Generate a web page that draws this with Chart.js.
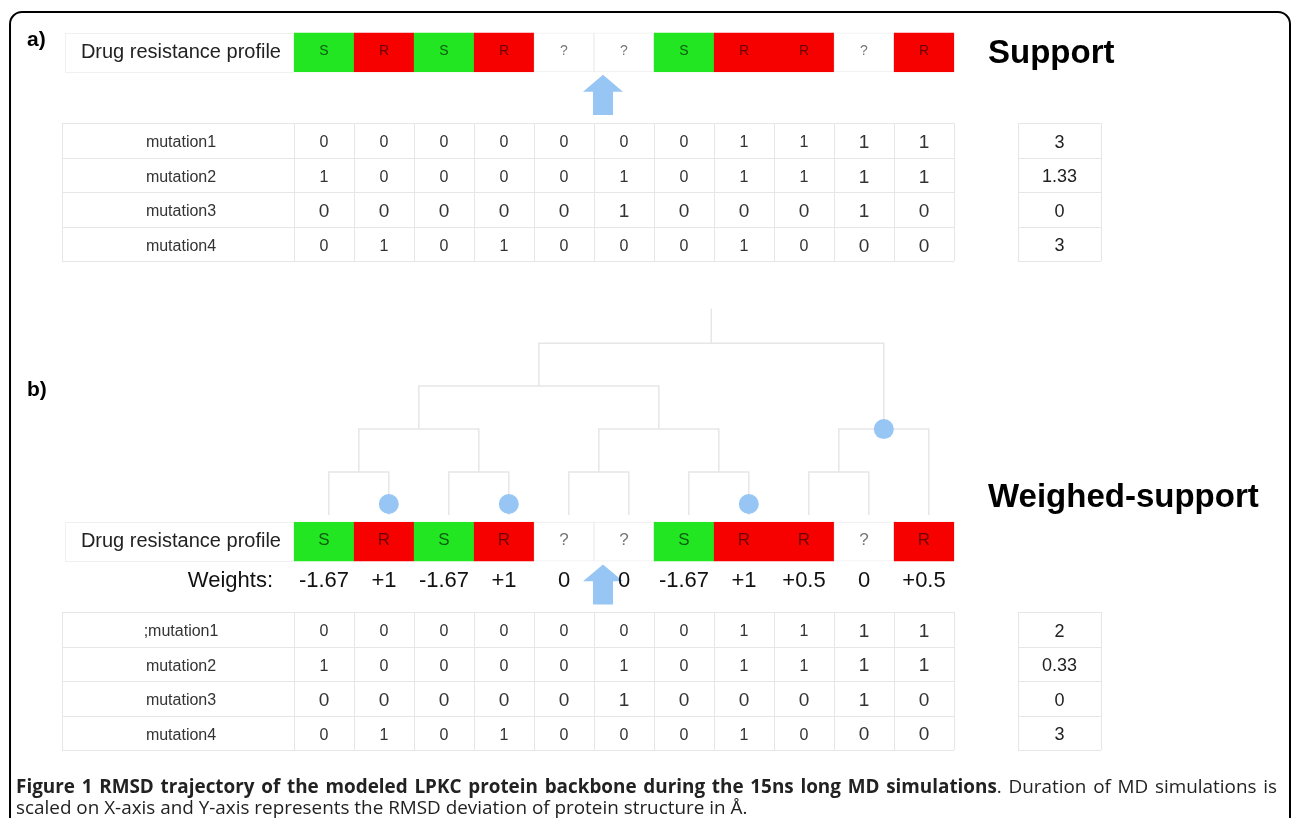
<!DOCTYPE html>
<html>
<head>
<meta charset="utf-8">
<script src="https://cdn.jsdelivr.net/npm/chart.js@4.4.1/dist/chart.umd.min.js"></script>
<style>
  html, body { margin: 0; padding: 0; background: #fff; }
  #wrap { width: 1293px; height: 818px; position: relative; }
</style>
</head>
<body>
<div id="wrap"><canvas id="figure"></canvas></div>
<script>
// ---- data ----
var profile = ['S', 'R', 'S', 'R', '?', '?', 'S', 'R', 'R', '?', 'R'];
var weights = ['-1.67', '+1', '-1.67', '+1', '0', '0', '-1.67', '+1', '+0.5', '0', '+0.5'];
var mutationsA = ['mutation1', 'mutation2', 'mutation3', 'mutation4'];
var mutationsB = [';mutation1', 'mutation2', 'mutation3', 'mutation4'];
var mutation1 = [0, 0, 0, 0, 0, 0, 0, 1, 1, 1, 1];
var mutation2 = [1, 0, 0, 0, 0, 1, 0, 1, 1, 1, 1];
var mutation3 = [0, 0, 0, 0, 0, 1, 0, 0, 0, 1, 0];
var mutation4 = [0, 1, 0, 1, 0, 0, 0, 1, 0, 0, 0];
var supportA = ['3', '1.33', '0', '3'];
var supportB = ['2', '0.33', '0', '3'];
var tree = [[[[1, 2], [3, 4]], [[5, 6], [7, 8]]], [[9, 10], 11]];
var markedClades = [[2], [4], [8], [9, 10, 11]];
var captionBold = 'Figure 1 RMSD trajectory of the modeled LPKC protein backbone during the 15ns long MD simulations';
var captionRest = '. Duration of MD simulations is';
var captionLine2 = 'scaled on X-axis and Y-axis represents the RMSD deviation of protein structure in Å.';

var matrix = [mutation1, mutation2, mutation3, mutation4];

// ---- layout: x in column units (column i centred on i), y in table-row units ----
var ROW = 34.5;
var X_MIN = -4.4, X_MAX = 17.15, Y_MAX = 818 / ROW;
var L = {
    frame: { left: -4.233, right: 17.1, top: 0.348 },
    tableLeft: -3.367, labelX: -1.383, profileLabelRight: 0.283, weightsRight: 0.15,
    supportLeft: 12.567, supportRight: 13.95, supportX: 13.26,
    headingX: 12.067, tagX: -3.95,
    half: 0.565, arrowCol: 5.65, textDrop: 0.07,
    a: { tag: 1.16, profile: 1.52, arrowTop: 2.17, arrowBottom: 3.33, table: 3.57, heading: 1.55 },
    b: { tag: 11.3, profile: 15.70, weights: 16.84, arrowTop: 16.36, arrowBottom: 17.52, table: 17.74, heading: 14.42 },
    tree: { leafY: 14.93, step: 1.246, stem: 1.0, shift: 0.08, markLift: 0.32 },
    caption: { left: -4.133, right: 16.883, line2Right: 8.07, line1: 22.84, line2: 23.45 }
};

var FONT = '"Liberation Sans", Arial, sans-serif';
var BLUE = '#98c6f4';
var GRID = '#e6e6e6';
var fills = { S: '#22e622', R: '#f70000', '?': '#ffffff' };
var borders = { S: '#22e622', R: '#f70000', '?': '#eeeeee' };
var letterColors = { S: '#0d5c0d', R: '#6a0000', '?': '#777777' };

// ---- tree layout from the nested structure ----
function layoutNode(node) {
    if (typeof node === 'number') {
        return { x: node + L.tree.shift, y: L.tree.leafY, h: 0, leaves: [node], kids: [] };
    }
    var kids = node.map(layoutNode);
    var h = Math.max.apply(null, kids.map(function (k) { return k.h; })) + 1;
    var x = kids.reduce(function (s, k) { return s + k.x; }, 0) / kids.length;
    var leaves = [].concat.apply([], kids.map(function (k) { return k.leaves; }));
    return { x: x, y: L.tree.leafY - h * L.tree.step, h: h, leaves: leaves, kids: kids };
}
var root = layoutNode(tree);

var treeDatasets = [];
var allNodes = [];
(function walk(n) {
    allNodes.push(n);
    if (!n.kids.length) return;
    var a = n.kids[0], b = n.kids[n.kids.length - 1];
    treeDatasets.push({
        type: 'scatter', showLine: true, pointRadius: 0, borderColor: GRID, borderWidth: 1.5, order: 2,
        data: [{ x: a.x, y: a.y }, { x: a.x, y: n.y }, { x: b.x, y: n.y }, { x: b.x, y: b.y }]
    });
    n.kids.forEach(walk);
})(root);
treeDatasets.push({
    type: 'scatter', showLine: true, pointRadius: 0, borderColor: GRID, borderWidth: 1.5, order: 2,
    data: [{ x: root.x, y: root.y }, { x: root.x, y: root.y - L.tree.stem }]
});

var markPoints = markedClades.map(function (clade) {
    var node = allNodes.filter(function (n) { return n.leaves.join() === clade.join(); })[0];
    if (node.h === 0) return { x: node.x, y: node.y - L.tree.markLift };
    return { x: node.x, y: node.y };
});

function profileBars(centre) {
    return {
        type: 'bar', grouped: false, barPercentage: 1, categoryPercentage: 1, order: 3,
        borderSkipped: false, borderWidth: 1,
        backgroundColor: profile.map(function (p) { return fills[p]; }),
        borderColor: profile.map(function (p) { return borders[p]; }),
        data: profile.map(function (p, i) { return { x: i + 1, y: [centre - L.half, centre + L.half] }; })
    };
}

// ---- drawing of grid, text and arrows through the scales ----
var figurePlugin = {
    id: 'figure',
    beforeDatasetsDraw: function (chart) {
        var ctx = chart.ctx, X = chart.scales.x, Y = chart.scales.y;
        function px(v) { return X.getPixelForValue(v); }
        function py(v) { return Y.getPixelForValue(v); }
        function hline(x0, x1, y) { var yy = Math.round(py(y)) + 0.5; ctx.beginPath(); ctx.moveTo(px(x0), yy); ctx.lineTo(px(x1), yy); ctx.stroke(); }
        function vline(x, y0, y1) { var xx = Math.round(px(x)) + 0.5; ctx.beginPath(); ctx.moveTo(xx, py(y0)); ctx.lineTo(xx, py(y1)); ctx.stroke(); }
        ctx.save();

        // outer frame
        var fl = px(L.frame.left), fr = px(L.frame.right), ft = py(L.frame.top), fb = py(Y_MAX) + 40, r = 12;
        ctx.strokeStyle = '#000'; ctx.lineWidth = 2;
        ctx.beginPath();
        ctx.moveTo(fl, fb); ctx.lineTo(fl, ft + r); ctx.arcTo(fl, ft, fl + r, ft, r);
        ctx.lineTo(fr - r, ft); ctx.arcTo(fr, ft, fr, ft + r, r); ctx.lineTo(fr, fb);
        ctx.stroke();

        ctx.strokeStyle = GRID; ctx.lineWidth = 1;
        [L.a, L.b].forEach(function (panel) {
            var top = panel.table, bottom = top + matrix.length;
            for (var rI = 0; rI <= matrix.length; rI++) {
                hline(L.tableLeft, profile.length + 0.5, top + rI);
                hline(L.supportLeft, L.supportRight, top + rI);
            }
            vline(L.tableLeft, top, bottom);
            for (var c = 0; c <= profile.length; c++) vline(c + 0.5, top, bottom);
            vline(L.supportLeft, top, bottom);
            vline(L.supportRight, top, bottom);
            // label box of the profile row
            ctx.strokeStyle = '#f0f0f0';
            hline(L.tableLeft + 0.05, 0.5, panel.profile - L.half);
            hline(L.tableLeft + 0.05, 0.5, panel.profile + L.half);
            vline(L.tableLeft + 0.05, panel.profile - L.half, panel.profile + L.half);
            ctx.strokeStyle = GRID;
        });
        ctx.restore();
    },
    afterDatasetsDraw: function (chart) {
        var ctx = chart.ctx, X = chart.scales.x, Y = chart.scales.y;
        function px(v) { return X.getPixelForValue(v); }
        function py(v) { return Y.getPixelForValue(v); }
        function text(str, x, y, size, color, align, weight, family) {
            ctx.font = (weight || 'normal') + ' ' + size + 'px ' + (family || FONT);
            ctx.fillStyle = color;
            ctx.textAlign = align || 'center';
            ctx.textBaseline = 'middle';
            ctx.fillText(str, px(x), py(y));
        }
        function arrow(col, top, bottom) {
            var cx = px(col), t = py(top), b = py(bottom);
            var hw = px(col + 0.333) - cx, sw = px(col + 0.167) - cx, hh = py(top + 0.49) - t;
            ctx.fillStyle = BLUE;
            ctx.beginPath();
            ctx.moveTo(cx, t); ctx.lineTo(cx + hw, t + hh); ctx.lineTo(cx + sw, t + hh); ctx.lineTo(cx + sw, b);
            ctx.lineTo(cx - sw, b); ctx.lineTo(cx - sw, t + hh); ctx.lineTo(cx - hw, t + hh);
            ctx.closePath(); ctx.fill();
        }
        ctx.save();

        [{ p: L.a, labels: mutationsA, support: supportA, heading: 'Support', tag: 'a)', letter: 14 },
         { p: L.b, labels: mutationsB, support: supportB, heading: 'Weighed-support', tag: 'b)', letter: 17 }]
        .forEach(function (panel) {
            var P = panel.p;
            text(panel.tag, L.tagX, P.tag, 21, '#000', 'left', 'bold');
            text('Drug resistance profile', L.profileLabelRight, P.profile, 20, '#222', 'right');
            profile.forEach(function (s, i) { text(s, i + 1, P.profile - 0.04, panel.letter, letterColors[s]); });
            text(panel.heading, L.headingX, P.heading, 33, '#000', 'left', 'bold');
            matrix.forEach(function (row, r) {
                var y = P.table + r + 0.5 + L.textDrop;
                text(panel.labels[r], L.labelX, y, 16, '#333');
                row.forEach(function (v, c) {
                    var big = r === 2 || c >= 9;
                    text(String(v), c + 1, y, big ? 19 : 16, '#333');
                });
                text(panel.support[r], L.supportX, y, 18, '#222');
            });
            arrow(L.arrowCol, P.arrowTop, P.arrowBottom);
        });

        text('Weights:', L.weightsRight, L.b.weights, 22, '#111', 'right');
        weights.forEach(function (w, i) { text(w, i + 1, L.b.weights, 22, '#111'); });

        // caption: second line sets the size, first line is justified
        var C = L.caption, capFont = '"Open Sans", sans-serif';
        ctx.font = '16px ' + capFont;
        var size = 16 * (px(C.line2Right) - px(C.left)) / ctx.measureText(captionLine2).width;
        text(captionLine2, C.left, C.line2, size, '#222', 'left', 'normal', capFont);

        var words = captionBold.split(' ').map(function (w) { return { t: w, bold: true }; });
        captionRest.split(' ').forEach(function (w, i) { words.push({ t: w, bold: false, glue: i === 0 }); });
        var natural = 0, gaps = 0;
        words.forEach(function (w) {
            ctx.font = (w.bold ? 'bold ' : '') + size + 'px ' + capFont;
            w.w = ctx.measureText(w.t).width;
            natural += w.w;
            if (!w.glue) gaps++;
        });
        gaps -= 1;
        var space = (px(C.right) - px(C.left) - natural) / gaps;
        var cursor = px(C.left);
        ctx.textAlign = 'left'; ctx.textBaseline = 'middle'; ctx.fillStyle = '#222';
        words.forEach(function (w, i) {
            if (i > 0 && !w.glue) cursor += space;
            ctx.font = (w.bold ? 'bold ' : '') + size + 'px ' + capFont;
            ctx.fillText(w.t, cursor, py(C.line1));
            cursor += w.w;
        });
        ctx.restore();
    }
};

var datasets = [
    { type: 'scatter', data: markPoints, pointRadius: 10, pointBackgroundColor: BLUE, pointBorderWidth: 0, order: 1 },
    profileBars(L.a.profile),
    profileBars(L.b.profile)
].concat(treeDatasets);

new Chart(document.getElementById('figure').getContext('2d'), {
    type: 'scatter',
    data: { datasets: datasets },
    options: {
        responsive: true,
        maintainAspectRatio: false,
        animation: false,
        events: [],
        layout: { padding: 0, autoPadding: false },
        plugins: { legend: { display: false }, tooltip: { enabled: false } },
        scales: {
            x: {
                type: 'linear', min: X_MIN, max: X_MAX, display: false, offset: false,
                grid: { offset: false },
                afterBuildTicks: function (axis) {
                    axis.ticks = profile.map(function (p, i) { return { value: i + 1 }; });
                }
            },
            y: { type: 'linear', min: 0, max: Y_MAX, reverse: true, display: false, offset: false }
        }
    },
    plugins: [figurePlugin]
});
</script>
</body>
</html>
